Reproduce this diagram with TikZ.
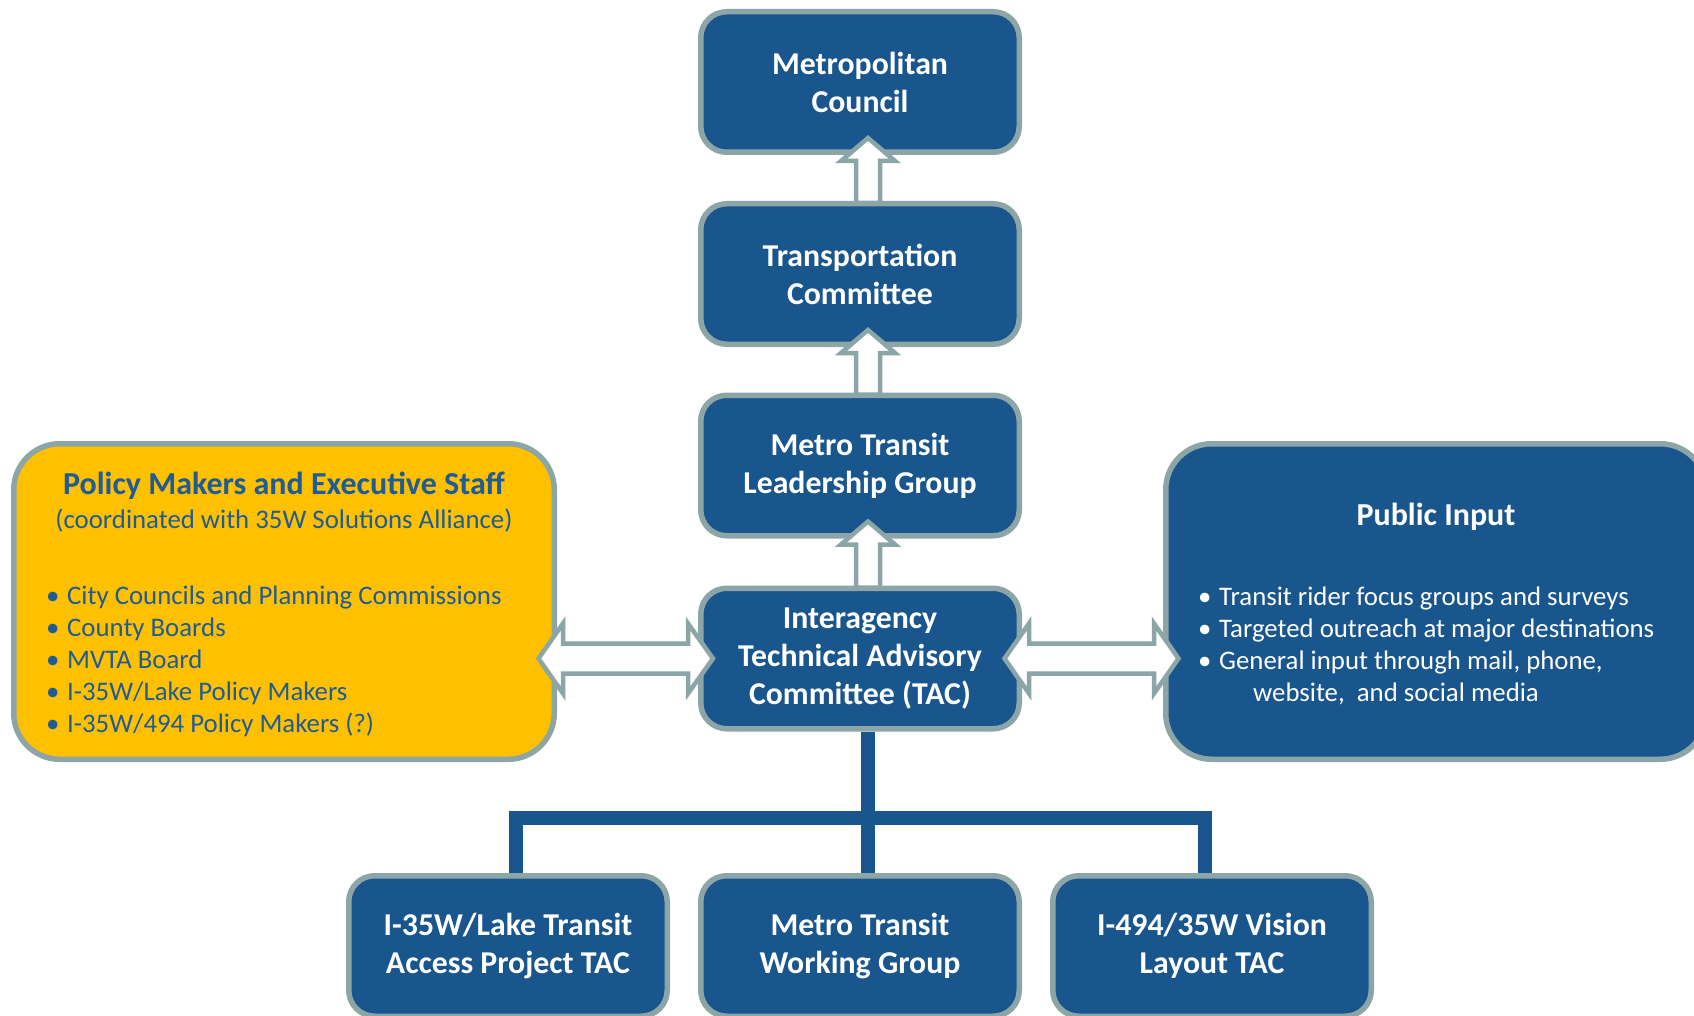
\documentclass[tikz,border=0pt]{standalone}
\usepackage{fontspec}
\setmainfont{Carlito}
\usetikzlibrary{calc}
\definecolor{boxblue}{HTML}{1A568E}
\definecolor{rimgray}{HTML}{8CA5A6}
\definecolor{gold}{HTML}{FFC000}
\definecolor{txtblue}{HTML}{1F5B97}
\tikzset{
  orgbox/.style={draw=rimgray, line width=5.5pt, fill=boxblue, rounded corners=26pt,
    minimum width=318.5pt, minimum height=140.5pt, inner sep=0pt, text=white,
    align=center, font=\fontsize{31.8}{38}\selectfont\bfseries},
  bigbox/.style={draw=rimgray, line width=5.5pt, rounded corners=46pt,
    minimum width=540.5pt, minimum height=315.5pt, inner sep=0pt},
  blockarr/.style={draw=rimgray, line width=4.5pt, fill=white, line join=miter},
  conn/.style={draw=boxblue, line width=14pt},
  titletxt/.style={inner sep=0pt, font=\fontsize{32}{38}\selectfont\bfseries},
  subtxt/.style={inner sep=0pt, font=\fontsize{26.8}{32}\selectfont},
  listtxt/.style={inner sep=0pt, align=left, font=\fontsize{26.8}{32}\selectfont},
}
\newcommand{\bul}{\makebox[21pt][l]{\textbullet}}
\begin{document}
\begin{tikzpicture}[x=1pt,y=-1pt]
\useasboundingbox (0,0) rectangle (1694,1016);
\clip (0,0) rectangle (1694,1016);

% central column
\node[orgbox] (mc) at (860,82) {Metropolitan\\Council};
\node[orgbox] (tc) at (860,274) {Transportation\\Committee};
\node[orgbox] (lg) at (860,465.5) {Metro Transit\\Leadership Group};
\node[orgbox] (tac) at (860,658.5) {Interagency\\Technical Advisory\\Committee (TAC)};

% bottom row
\node[orgbox] (b1) at (508,946) {I-35W/Lake Transit\\Access Project TAC};
\node[orgbox] (b2) at (860,946) {Metro Transit\\Working Group};
\node[orgbox] (b3) at (1212,946) {I-494/35W Vision\\Layout TAC};

% side boxes
\node[bigbox, fill=gold] (pm) at (284,601.5) {};
\node[bigbox, fill=boxblue] (pi) at (1436,601.5) {};

% texts in side boxes
\node[titletxt, text=txtblue] (pmtitle) at (284,486) {Policy Makers and Executive Staff};
\node[subtxt, text=txtblue] (pmsub) at (284,521) {(coordinated with 35W Solutions Alliance)};
\node[listtxt, text=txtblue, anchor=west] (pmlist) at (46,661.5)
  {\bul City Councils and Planning Commissions\\
   \bul County Boards\\
   \bul MVTA Board\\
   \bul I-35W/Lake Policy Makers\\
   \bul I-35W/494 Policy Makers (?)};

\node[titletxt, text=white] (pititle) at (1436,517) {Public Input};
\node[listtxt, text=white, anchor=west] (pilist) at (1198,645.5)
  {\bul Transit rider focus groups and surveys\\
   \bul Targeted outreach at major destinations\\
   \bul General input through mail, phone,\\
   \hspace{55pt}website,\ \ and social media};

% up arrows
\draw[blockarr] ($(tc.north)+(-4,2)$) -- ($(mc.south)+(-4,6)$) -- ($(mc.south)+(-19,6)$)
  -- ($(mc.south)+(8,-17)$) -- ($(mc.south)+(35,6)$) -- ($(mc.south)+(20,6)$)
  -- ($(tc.north)+(20,2)$) -- cycle;
\draw[blockarr] ($(lg.north)+(-4,2)$) -- ($(tc.south)+(-4,6)$) -- ($(tc.south)+(-19,6)$)
  -- ($(tc.south)+(8,-17)$) -- ($(tc.south)+(35,6)$) -- ($(tc.south)+(20,6)$)
  -- ($(lg.north)+(20,2)$) -- cycle;
\draw[blockarr] ($(tac.north)+(-4,2)$) -- ($(lg.south)+(-4,6)$) -- ($(lg.south)+(-19,6)$)
  -- ($(lg.south)+(8,-17)$) -- ($(lg.south)+(35,6)$) -- ($(lg.south)+(20,6)$)
  -- ($(tac.north)+(20,2)$) -- cycle;

% double arrows
\draw[blockarr] ($(pm.east |- tac.west)+(-18.5,0)$) -- ($(pm.east |- tac.west)+(6,-35)$)
  -- ($(pm.east |- tac.west)+(6,-15)$) -- ($(tac.west)+(-10,-15)$) -- ($(tac.west)+(-10,-35)$)
  -- ($(tac.west)+(15,0)$) -- ($(tac.west)+(-10,35)$) -- ($(tac.west)+(-10,15)$)
  -- ($(pm.east |- tac.west)+(6,15)$) -- ($(pm.east |- tac.west)+(6,35)$) -- cycle;
\draw[blockarr] ($(tac.east)+(-17.5,0)$) -- ($(tac.east)+(7,-35)$)
  -- ($(tac.east)+(7,-15)$) -- ($(pi.west |- tac.east)+(-9,-15)$) -- ($(pi.west |- tac.east)+(-9,-35)$)
  -- ($(pi.west |- tac.east)+(15.5,0)$) -- ($(pi.west |- tac.east)+(-9,35)$) -- ($(pi.west |- tac.east)+(-9,15)$)
  -- ($(tac.east)+(7,15)$) -- ($(tac.east)+(7,35)$) -- cycle;

% bottom connectors
\draw[conn] ($(tac.south)+(8,0)$) -- ($(b2.north)+(8,0)$);
\draw[conn] ($(b1.north)+(7.5,0)$) -- ($(b1.north)+(7.5,-55)$) -| ($(b3.north)+(-7.5,0)$);
\end{tikzpicture}
\end{document}
